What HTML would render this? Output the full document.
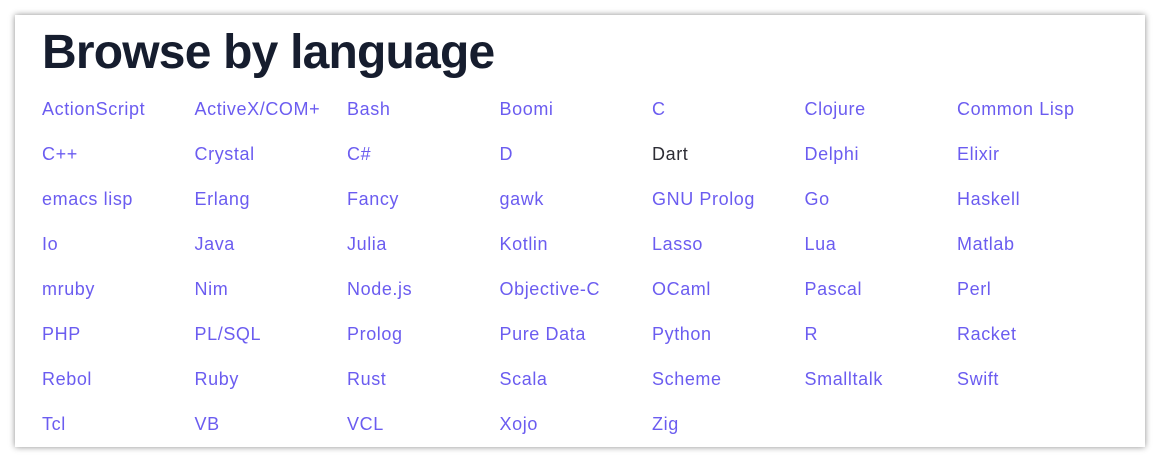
<!DOCTYPE html>
<html><head><meta charset="utf-8"><style>
html,body{margin:0;padding:0;width:1160px;height:462px;background:#fff;overflow:hidden}
.card{position:absolute;left:15px;top:15px;width:1130px;height:432px;background:#fff;box-shadow:0 0 6px rgba(0,0,0,.45)}
h1{position:absolute;left:27px;top:8px;margin:0;font:bold 48px/60px "Liberation Sans",sans-serif;color:#161d2e;letter-spacing:-0.8px}
a{position:absolute;font:18px/22px "Liberation Sans",sans-serif;color:#6b5cf0;text-decoration:none;white-space:nowrap;letter-spacing:0.6px}
a.v{color:#2d2d35}
</style></head><body>
<div class="card">
<h1>Browse by language</h1>
<div id="grid"></div>
</div>
<script>
const langs=["ActionScript","ActiveX/COM+","Bash","Boomi","C","Clojure","Common Lisp","C++","Crystal","C#","D","Dart","Delphi","Elixir","emacs lisp","Erlang","Fancy","gawk","GNU Prolog","Go","Haskell","Io","Java","Julia","Kotlin","Lasso","Lua","Matlab","mruby","Nim","Node.js","Objective-C","OCaml","Pascal","Perl","PHP","PL/SQL","Prolog","Pure Data","Python","R","Racket","Rebol","Ruby","Rust","Scala","Scheme","Smalltalk","Swift","Tcl","VB","VCL","Xojo","Zig"];
const g=document.getElementById('grid');
langs.forEach((l,i)=>{
const a=document.createElement('a');
a.href='#';a.textContent=l;


if(l==='Dart')a.className='v';
a.style.left=(27+(i%7)*152.5)+'px';
a.style.top=(83+Math.floor(i/7)*45)+'px';
g.appendChild(a);
});
</script>
</body></html>
